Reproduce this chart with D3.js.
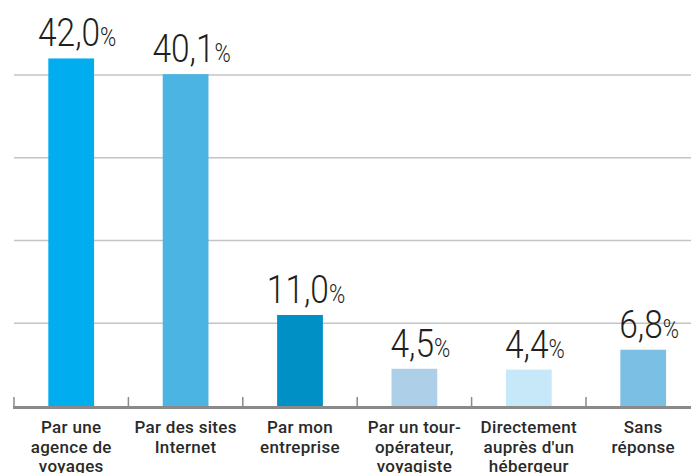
<!DOCTYPE html>
<html>
<head>
<meta charset="utf-8">
<script src="https://cdn.jsdelivr.net/npm/d3@7"></script>
<style>
  body { margin: 0; background: #fff; }
  svg { display: block; }
</style>
</head>
<body>
<script>
let categories = [
  ["Par une", "agence de", "voyages"],
  ["Par des sites", "Internet"],
  ["Par mon", "entreprise"],
  ["Par un tour-", "opérateur,", "voyagiste"],
  ["Directement", "auprès d'un", "hébergeur"],
  ["Sans", "réponse"]
];
let values = [42.0, 40.1, 11.0, 4.5, 4.4, 6.8];
let valueLabels = ["42,0", "40,1", "11,0", "4,5", "4,4", "6,8"];
let colors = ["#00aeef", "#4bb4e3", "#0090c5", "#add0e8", "#c6e8f8", "#7bbfe4"];
let gridTicks = [10, 20, 30, 40];

let w = 691;
let h = 473;
let left = 14;
let base = 406;

let svg = d3.select("body")
  .append("svg")
  .attr("width", w)
  .attr("height", h);

let xScale = d3.scaleBand()
  .domain(d3.range(values.length))
  .range([left, left + 6 * 114.4])
  .paddingInner(0.6)
  .paddingOuter(0.3);

let yScale = d3.scaleLinear()
  .domain([0, 40])
  .range([base, base - 331]);

let cx = (i) => xScale(i) + xScale.bandwidth() / 2;

// gridlines
svg.selectAll("line.grid")
  .data(gridTicks)
  .enter()
  .append("line")
  .attr("class", "grid")
  .attr("x1", left)
  .attr("x2", w)
  .attr("y1", (d) => yScale(d))
  .attr("y2", (d) => yScale(d))
  .attr("stroke", "#c4c4c4")
  .attr("stroke-width", 1.5);

// bars
svg.selectAll("rect")
  .data(values)
  .enter()
  .append("rect")
  .attr("x", (d, i) => xScale(i))
  .attr("y", (d) => yScale(d))
  .attr("width", xScale.bandwidth())
  .attr("height", (d) => base - yScale(d))
  .attr("fill", (d, i) => colors[i]);

// axis line with ticks
let step = xScale.step();
let tickX = d3.range(values.length).map((i) => xScale(i) - xScale.paddingOuter() * step);
svg.selectAll("line.tick")
  .data(tickX)
  .enter()
  .append("line")
  .attr("class", "tick")
  .attr("x1", (d) => d)
  .attr("x2", (d) => d)
  .attr("y1", base - 9)
  .attr("y2", base)
  .attr("stroke", "#8a8a8a")
  .attr("stroke-width", 1.5);

svg.append("line")
  .attr("x1", left - 1)
  .attr("x2", w)
  .attr("y1", base + 1.5)
  .attr("y2", base + 1.5)
  .attr("stroke", "#8a8a8a")
  .attr("stroke-width", 3);

// value labels (narrowed light digits)
let vl = svg.selectAll("g.val")
  .data(values)
  .enter()
  .append("g")
  .attr("class", "val")
  .attr("transform", (d, i) => `translate(${cx(i) + 6},${yScale(d) - 12}) scale(0.88,1)`)
  .append("text")
  .attr("text-anchor", "middle")
  .attr("font-family", "Roboto, sans-serif")
  .attr("font-weight", 300)
  .attr("fill", "#231f20");
vl.append("tspan")
  .attr("font-size", "38px")
  .text((d, i) => valueLabels[i]);
vl.append("tspan")
  .attr("font-size", "25px")
  .text("%");

// category labels
let cl = svg.selectAll("text.cat")
  .data(categories)
  .enter()
  .append("text")
  .attr("class", "cat")
  .attr("text-anchor", "middle")
  .attr("font-family", "Roboto, sans-serif")
  .attr("font-weight", 500)
  .attr("font-size", "17px")
  .attr("letter-spacing", "0.3px")
  .attr("fill", "#2a2a2a");
cl.selectAll("tspan")
  .data((d, i) => d.map((s) => ({ s: s, i: i })))
  .enter()
  .append("tspan")
  .attr("x", (d) => cx(d.i))
  .attr("y", (d, j) => 433 + j * 19.5)
  .text((d) => d.s);
</script>
</body>
</html>
